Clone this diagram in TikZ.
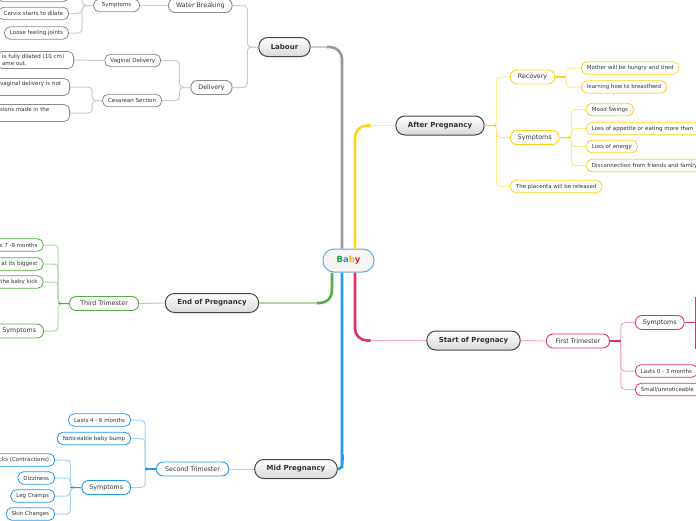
\documentclass[tikz,border=0pt]{standalone}
\usepackage{fontspec}
\setmainfont{DejaVu Sans}
\usetikzlibrary{positioning, calc}
\definecolor{InkGray}{HTML}{333333}
\definecolor{TrunkGray}{HTML}{9A9A9A}
\definecolor{LinkGray}{HTML}{CCCCCC}
\definecolor{EdgeGray}{HTML}{8C8C8C}
\definecolor{SunYellow}{HTML}{FFD21F}
\definecolor{PaleYellow}{HTML}{FFE98C}
\definecolor{BerryPink}{HTML}{E0306E}
\definecolor{PalePink}{HTML}{F5A9C3}
\definecolor{LeafGreen}{HTML}{56AD48}
\definecolor{PaleGreen}{HTML}{AEDAA6}
\definecolor{SkyBlue}{HTML}{2499EE}
\definecolor{PaleBlue}{HTML}{A3D3F6}
\definecolor{BabyFill}{HTML}{F8F4F4}
\definecolor{BabyEdge}{HTML}{5FAAE3}
\definecolor{LetterGreen}{HTML}{1E9E4A}
\definecolor{LetterBlue}{HTML}{2A8FD8}
\definecolor{LetterGold}{HTML}{F2B705}
\definecolor{LetterRed}{HTML}{D9283A}

\begin{document}
\begin{tikzpicture}[x=1pt, y=-1pt,
    every node/.style={text=InkGray},
    centre/.style={draw=BabyEdge, fill=BabyFill, line width=1pt, rounded corners=11pt, minimum width=51pt, minimum height=23pt, font=\fontsize{8.5}{9}\selectfont\bfseries},
    topic/.style={draw=gray!55!black, line width=1pt, rounded corners=9pt, top color=white, bottom color=gray!30, minimum height=19pt, inner xsep=12pt, font=\fontsize{7}{8}\selectfont\bfseries},
    branch/.style={draw=#1, fill=white, line width=0.9pt, rounded corners=6.5pt, minimum height=14pt, inner xsep=7.5pt, inner ysep=1pt, font=\fontsize{6.3}{7.5}\selectfont},
    leaf/.style={draw=#1, fill=white, line width=0.8pt, rounded corners=5.5pt, minimum height=12.5pt, inner xsep=5.5pt, inner ysep=1pt, font=\fontsize{5.5}{6.8}\selectfont},
    trunk/.style={draw=#1, line width=2.6pt, rounded corners=12pt},
    link/.style={draw=#1, line width=1pt, rounded corners=4pt},
    stub/.style={draw=#1, line width=1.4pt}]
    \useasboundingbox (0,0) rectangle (696,520);

    % Centre
    \node[centre] (baby) at (348.5,260.5) {{\color{LetterGreen}B}{\color{LetterBlue}a}{\color{LetterGold}b}{\color{LetterRed}y}};

    % Main topics
    \node[topic] (lab) at (284.5,47) {Labour};
    \node[topic] (aft) at (440,125.5) {After Pregnancy};
    \node[topic] (endp) at (212,303) {End of Pregnancy};
    \node[topic] (start) at (473.5,340.5) {Start of Pregnacy};
    \node[topic] (mid) at (296,469) {Mid Pregnancy};

    % Labour
    \node[branch=EdgeGray, anchor=east] (wat) at (232.5,5.5) {Water Breaking};
    \node[branch=EdgeGray, anchor=east] (del) at (232.5,87.5) {Delivery};
    \node[leaf=EdgeGray, anchor=east, minimum width=46pt] (wsy) at (140,5.5) {Symptoms};
    \node[leaf=EdgeGray, anchor=east, text width=60pt] (wup) at (69,-4.5) {};
    \node[leaf=EdgeGray, anchor=east] (cer) at (69,13.5) {Cervix starts to dilate};
    \node[leaf=EdgeGray, anchor=east] (joi) at (69,33) {Loose feeling joints};
    \node[leaf=EdgeGray, anchor=east] (vag) at (161,60.5) {Vaginal Delivery};
    \node[leaf=EdgeGray, anchor=east] (ces) at (162,100.5) {Cesarean Section};
    \node[leaf=EdgeGray, anchor=east, text width=66pt, align=left, inner ysep=3pt] (vtx) at (74,60) {is fully dilated (10 cm)\\ame out.};
    \node[leaf=EdgeGray, anchor=east, text width=64pt, align=left, inner ysep=3pt] (cs1) at (70,87) {vaginal delivery is not\\\mbox{}};
    \node[leaf=EdgeGray, anchor=east, text width=64pt, align=left, inner ysep=3pt] (cs2) at (70,113) {sions made in the\\\mbox{}};

    % After Pregnancy
    \node[branch=SunYellow, anchor=west] (rec) at (510,77) {Recovery};
    \node[leaf=SunYellow, anchor=west] (hun) at (581,68) {Mother will be hungry and tired};
    \node[leaf=SunYellow, anchor=west] (bre) at (581,87) {learning how to breastfeed};
    \node[branch=SunYellow, anchor=west] (asy) at (510,137.5) {Symptoms};
    \node[leaf=SunYellow, anchor=west] (moo) at (586,109.5) {Mood Swings};
    \node[leaf=SunYellow, anchor=west, text width=130pt, align=left] (app) at (586,128.5) {Loss of appetite or eating more than};
    \node[leaf=SunYellow, anchor=west] (ene) at (586,146.5) {Loss of energy};
    \node[leaf=SunYellow, anchor=west, text width=130pt, align=left] (dis) at (586,165.5) {Disconnection from friends and family};
    \node[leaf=SunYellow, anchor=west] (pla) at (510,186.5) {The placenta will be released};

    % End of Pregnancy
    \node[branch=LeafGreen, anchor=east, minimum width=69pt] (thi) at (139,303.5) {Third Trimester};
    \node[leaf=LeafGreen, anchor=east] (t79) at (43.5,245) {Lasts 7 -9 months};
    \node[leaf=LeafGreen, anchor=east, text width=60pt, align=right] (big) at (43.5,264) {at its biggest};
    \node[leaf=LeafGreen, anchor=east, text width=60pt, align=right] (kick) at (43.5,282) {the baby kick};
    \node[branch=LeafGreen, anchor=east, text width=42pt, align=right] (tsy) at (44,331) {Symptoms};

    % Start of Pregnancy
    \node[branch=BerryPink, anchor=west, minimum width=63pt] (fir) at (546,341) {First Trimester};
    \node[branch=BerryPink, anchor=west] (fsy) at (635,322.5) {Symptoms};
    \node[leaf=BerryPink, anchor=west] (f03) at (635,371) {Lasts 0 - 3 months};
    \node[leaf=BerryPink, anchor=west, text width=80pt, align=left] (fsm) at (635,389.5) {Small/unnoticeable};
    \coordinate (fsyend) at (696,322.5);
    \coordinate (fsytop) at (695.5,297);
    \coordinate (fsybot) at (695.5,349);

    % Mid Pregnancy
    \node[branch=SkyBlue, anchor=east, minimum width=72pt] (sec) at (229,469) {Second Trimester};
    \node[leaf=SkyBlue, anchor=east] (l46) at (131,420) {Lasts 4 - 6 months};
    \node[leaf=SkyBlue, anchor=east] (bum) at (131,438.5) {Noticeable baby bump};
    \node[branch=SkyBlue, anchor=east] (msy) at (131,487.5) {Symptoms};
    \node[leaf=SkyBlue, anchor=east] (bra) at (55,460) {Braxton Hicks (Contractions)};
    \node[leaf=SkyBlue, anchor=east] (diz) at (55,478) {Dizziness};
    \node[leaf=SkyBlue, anchor=east] (leg) at (55,496) {Leg Cramps};
    \node[leaf=SkyBlue, anchor=east] (ski) at (55,514) {Skin Changes};

    % Trunks out of the centre
    \coordinate (gbend) at ([xshift=-22pt]baby.north |- lab.east);
    \coordinate (ybend) at ([xshift=22pt]baby.north |- aft.west);
    \coordinate (lbend) at ([xshift=-32pt]baby.south |- endp.east);
    \coordinate (pbend) at ([xshift=22pt]baby.south |- start.west);
    \coordinate (bbend) at ([xshift=-6.5pt]baby.south |- mid.east);
    \draw[trunk=TrunkGray] ([xshift=-6.5pt]baby.north) |- (gbend);
    \draw[link=LinkGray, line width=1.8pt] (gbend) -- (lab.east);
    \draw[trunk=SunYellow] ([xshift=6.5pt]baby.north) |- (ybend);
    \draw[link=PaleYellow, line width=1.8pt] (ybend) -- (aft.west);
    \draw[trunk=LeafGreen] ([xshift=-16.5pt]baby.south) |- (lbend);
    \draw[link=PaleGreen, line width=1.8pt] (lbend) -- (endp.east);
    \draw[trunk=BerryPink] ([xshift=6.5pt]baby.south) |- (pbend);
    \draw[link=PalePink, line width=1.8pt] (pbend) -- (start.west);
    \draw[trunk=SkyBlue] ([xshift=-6.5pt]baby.south) -- ([yshift=13pt]bbend) to[out=-90, in=0] (mid.east);

    % Labour links
    \draw[link=LinkGray] (lab.west) -- ++(-11,0) |- (wat.east);
    \draw[link=LinkGray] (lab.west) -- ++(-11,0) |- (del.east);
    \draw[link=LinkGray] (wat.west) -- (wsy.east);
    \draw[link=LinkGray] (wsy.west) -- ++(-11,0) |- (wup.east);
    \draw[link=LinkGray] (wsy.west) -- ++(-11,0) |- (cer.east);
    \draw[link=LinkGray] (wsy.west) -- ++(-11,0) |- (joi.east);
    \draw[link=LinkGray] (del.west) -- ++(-11,0) |- (vag.east);
    \draw[link=LinkGray] (del.west) -- ++(-11,0) |- (ces.east);
    \draw[link=LinkGray] (vag.west) -- (vtx.east);
    \draw[link=LinkGray] (ces.west) -- ++(-10,0) |- (cs1.east);
    \draw[link=LinkGray] (ces.west) -- ++(-10,0) |- (cs2.east);

    % After Pregnancy links
    \draw[link=PaleYellow] (aft.east) -- ++(12,0) |- (rec.west);
    \draw[link=PaleYellow] (aft.east) -- ++(12,0) |- (asy.west);
    \draw[link=PaleYellow] (aft.east) -- ++(12,0) |- (pla.west);
    \draw[stub=SunYellow] (aft.east) -- ++(12,0);
    \draw[link=PaleYellow] (rec.east) -- ++(11,0) |- (hun.west);
    \draw[link=PaleYellow] (rec.east) -- ++(11,0) |- (bre.west);
    \draw[stub=SunYellow] (rec.east) -- ++(11,0);
    \draw[link=PaleYellow] (asy.east) -- ++(12,0) |- (moo.west);
    \draw[link=PaleYellow] (asy.east) -- ++(12,0) |- (app.west);
    \draw[link=PaleYellow] (asy.east) -- ++(12,0) |- (ene.west);
    \draw[link=PaleYellow] (asy.east) -- ++(12,0) |- (dis.west);
    \draw[stub=SunYellow] (asy.east) -- ++(12,0);

    % End of Pregnancy links
    \draw[link=PaleGreen] (endp.west) -- (thi.east);
    \draw[link=PaleGreen] (thi.west) -- ++(-11,0) |- (t79.east);
    \draw[link=PaleGreen] (thi.west) -- ++(-11,0) |- (big.east);
    \draw[link=PaleGreen] (thi.west) -- ++(-11,0) |- (kick.east);
    \draw[link=PaleGreen] (thi.west) -- ++(-11,0) |- (tsy.east);
    \draw[stub=LeafGreen] (thi.west) -- ++(-11,0);

    % Start of Pregnancy links
    \draw[link=PalePink] (start.east) -- (fir.west);
    \draw[link=PalePink] (fir.east) -- ++(11,0) |- (fsy.west);
    \draw[link=PalePink] (fir.east) -- ++(11,0) |- (f03.west);
    \draw[link=PalePink] (fir.east) -- ++(11,0) |- (fsm.west);
    \draw[stub=BerryPink] (fir.east) -- ++(11,0);
    \draw[stub=BerryPink] (fsy.east) -- (fsyend);
    \draw[link=BerryPink] (fsytop) -- (fsybot);

    % Mid Pregnancy links
    \draw[link=PaleBlue] (mid.west) -- (sec.east);
    \draw[link=PaleBlue] (sec.west) -- ++(-11,0) |- (l46.east);
    \draw[link=PaleBlue] (sec.west) -- ++(-11,0) |- (bum.east);
    \draw[link=PaleBlue] (sec.west) -- ++(-11,0) |- (msy.east);
    \draw[stub=SkyBlue] (sec.west) -- ++(-11,0);
    \draw[link=PaleBlue] (msy.west) -- ++(-11,0) |- (bra.east);
    \draw[link=PaleBlue] (msy.west) -- ++(-11,0) |- (diz.east);
    \draw[link=PaleBlue] (msy.west) -- ++(-11,0) |- (leg.east);
    \draw[link=PaleBlue] (msy.west) -- ++(-11,0) |- (ski.east);
    \draw[stub=SkyBlue] (msy.west) -- ++(-11,0);
\end{tikzpicture}
\end{document}
